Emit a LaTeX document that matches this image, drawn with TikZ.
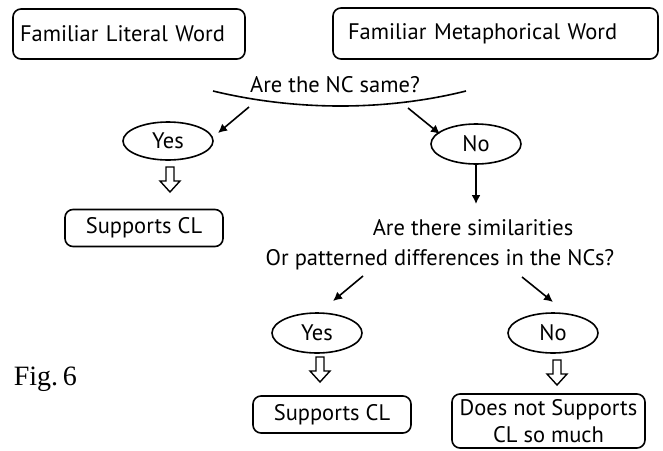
\documentclass[tikz,border=0pt]{standalone}
\usepackage{fontspec}
\setmainfont{PT Sans}
\newfontfamily\figfont{Liberation Serif}
\usetikzlibrary{calc}
\usetikzlibrary{arrows.meta}
\usetikzlibrary{shapes.geometric}

% hollow block arrow pointing down, top at #1
\newcommand{\downblock}[1]{%
        \draw[line width=1.4pt, line join=miter] ($(#1)+(-4,0)$) -- ++(0,14) -- ++(-6,0) -- ++(10,11) -- ++(10,-11) -- ++(-6,0) -- ++(0,-14) -- cycle;}

\begin{document}
\begin{tikzpicture}[x=1pt, y=-1pt, line width=1.6pt,
        txt/.style={font=\fontsize{22.5}{27}\selectfont},
        box/.style={txt, rectangle, rounded corners=8pt, draw, minimum height=37pt, inner sep=0pt},
        oval/.style={txt, ellipse, draw, minimum width=90pt, minimum height=40pt, inner sep=0pt},
        arr/.style={-{Latex[length=9pt, width=9pt]}}]

        \useasboundingbox (0,0) rectangle (663,450);

        % Nodes
        \node (lit) [box, minimum height=50pt, text width=218pt, inner xsep=7pt, align=left] at (129,34) {Familiar Literal Word};
        \node (met) [box, minimum height=51pt, text width=295pt, inner xsep=15pt, align=left] at (495.5,33.5) {Familiar Metaphorical Word};

        \node (same) [txt, anchor=base] at (335,92) {Are the NC same?};
        \coordinate (arcl) at (213,91);
        \coordinate (arcr) at (466,91);

        \node (yes1) [oval, minimum height=38pt] at (168,141) {Yes};
        \node (no1) [oval] at (476,144) {No};
        \node (scl1) [box, minimum width=158pt] at (144,228) {Supports CL};

        \node (sim1) [txt, anchor=base] at (473,235) {Are there similarities};
        \node (sim2) [txt, anchor=base] at (440,265) {Or patterned differences in the NCs?};

        \node (yes2) [oval] at (317,333) {Yes};
        \node (no2) [oval] at (553,333) {No};
        \node (scl2) [box, minimum width=158pt] at (332,414.5) {Supports CL};
        \node (dns) [box, minimum width=193pt, minimum height=54pt, align=center] at (548.5,421) {Does not Supports\\CL so much};

        \node (fig) [anchor=base west, font=\figfont\fontsize{28}{34}\selectfont, inner sep=0pt] at (13,385) {Fig.\,6};

        % Arrows
        \draw (arcl) .. controls (300,112) and (390,110) .. (arcr);
        \coordinate (a1) at (249,107);
        \coordinate (b1) at (218,133);
        \coordinate (a2) at (408,108);
        \coordinate (b2) at (440,134);
        \coordinate (t1) at (476,204);
        \coordinate (a3) at (363,276);
        \coordinate (b3) at (333,301);
        \coordinate (a4) at (522,277);
        \coordinate (b4) at (553,302);
        \draw[arr] (a1) -- (b1);
        \draw[arr] (a2) -- (b2);
        \draw[arr] (no1.south) -- (t1);
        \draw[arr] (a3) -- (b3);
        \draw[arr] (a4) -- (b4);

        \coordinate (h1) at (170,167);
        \coordinate (h2) at (320,357);
        \coordinate (h3) at (557,360);
        \downblock{h1}
        \downblock{h2}
        \downblock{h3}

\end{tikzpicture}
\end{document}
